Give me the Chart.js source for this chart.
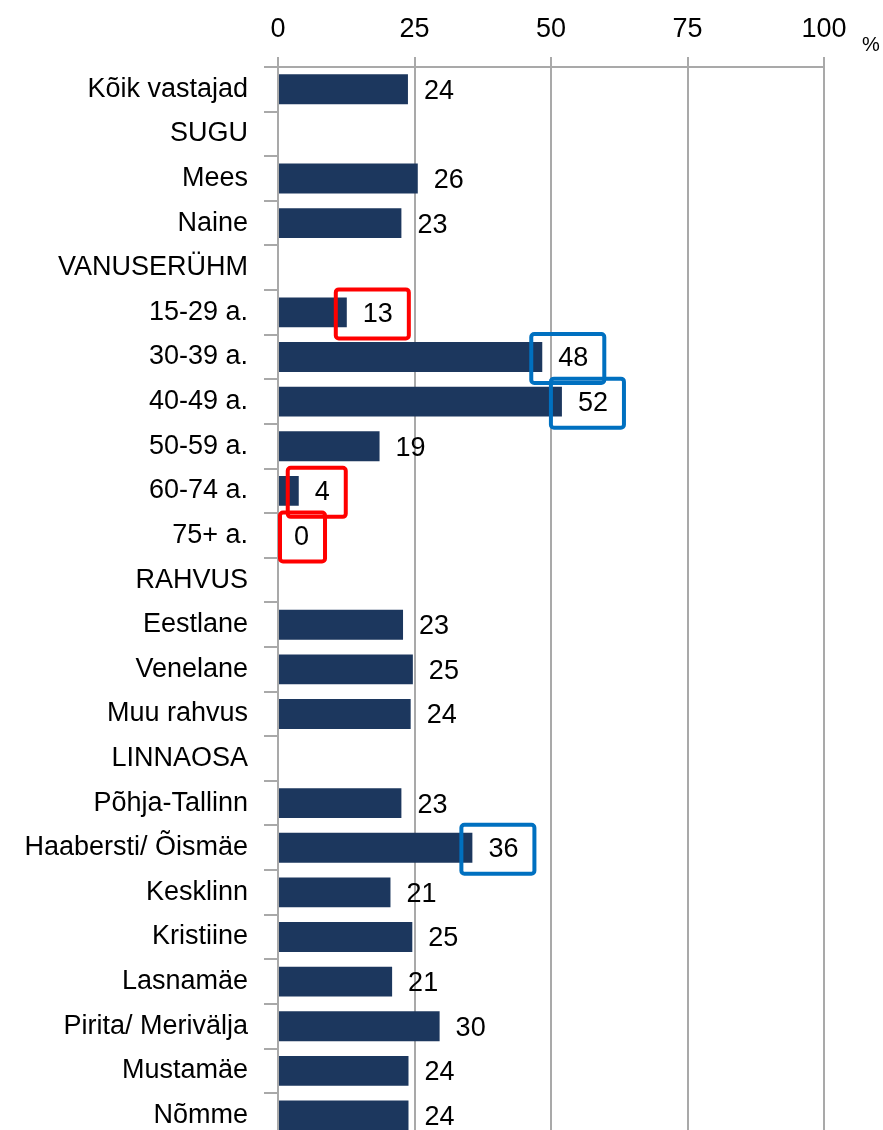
<!DOCTYPE html>
<html lang="et">

<head>
    <meta charset="UTF-8">
    <title>Vastajad rühmade kaupa</title>
    <script src="https://cdn.jsdelivr.net/npm/chart.js"></script>
    <style>
        html, body {
            margin: 0;
            padding: 0;
            background: #fff;
            overflow: hidden;
        }

        /* kõrgem kui aken: graafiku alumine osa jääb pildist välja nagu originaalis */
        .chart-container {
            position: relative;
            width: 883px;
            height: 1170px;
        }
    </style>
</head>

<body>
    <div class="chart-container">
        <canvas id="chart"></canvas>
    </div>

    <script>
        // Andmed
        const categories = [
            'Kõik vastajad', 'SUGU', 'Mees', 'Naine', 'VANUSERÜHM',
            '15-29 a.', '30-39 a.', '40-49 a.', '50-59 a.', '60-74 a.', '75+ a.',
            'RAHVUS', 'Eestlane', 'Venelane', 'Muu rahvus', 'LINNAOSA',
            'Põhja-Tallinn', 'Haabersti/ Õismäe', 'Kesklinn', 'Kristiine',
            'Lasnamäe', 'Pirita/ Merivälja', 'Mustamäe', 'Nõmme'
        ];
        const values = [
            23.8, null, 25.6, 22.6, null,
            12.6, 48.4, 52.0, 18.6, 3.8, 0,
            null, 22.9, 24.7, 24.3, null,
            22.6, 35.6, 20.6, 24.6,
            20.9, 29.6, 23.9, 23.9
        ];
        const xTicks = [0, 25, 50, 75, 100];
        const redRows = ['15-29 a.', '60-74 a.', '75+ a.'];
        const blueRows = ['30-39 a.', '40-49 a.', 'Haabersti/ Õismäe'];

        const FONT = "'Liberation Sans', Arial, sans-serif";

        // Väärtuste sildid ja raamid
        const labelsPlugin = {
            id: 'valueLabels',
            afterDatasetsDraw(chart) {
                const ctx = chart.ctx;
                const xs = chart.scales.x;
                const ys = chart.scales.y;
                ctx.save();
                ctx.font = '27px ' + FONT;
                ctx.fillStyle = '#000';
                ctx.textAlign = 'left';
                ctx.textBaseline = 'middle';
                values.forEach((v, i) => {
                    if (v === null) return;
                    const end = xs.getPixelForValue(v);
                    const y = ys.getPixelForValue(i);
                    const txt = String(Math.round(v));
                    const tx = end + 16;
                    ctx.fillText(txt, tx, y + 2);

                    let color = null;
                    if (redRows.includes(categories[i])) color = '#ff0000';
                    if (blueRows.includes(categories[i])) color = '#0070c0';
                    if (color) {
                        const w = ctx.measureText(txt).width;
                        const left = Math.max(end - 11, xs.left + 2);
                        const right = tx + w + 16;
                        ctx.strokeStyle = color;
                        ctx.lineWidth = 4;
                        ctx.beginPath();
                        ctx.roundRect(left, y - 23, right - left, 49, 3);
                        ctx.stroke();
                    }
                });
                // % märk
                ctx.font = '20px ' + FONT;
                ctx.fillText('%', xs.right + 38, xs.top + 45);
                ctx.restore();
            }
        };

        const ctx = document.getElementById('chart').getContext('2d');
        new Chart(ctx, {
            type: 'bar',
            data: {
                labels: categories,
                datasets: [{
                    data: values,
                    backgroundColor: '#1c375e',
                    borderWidth: 0,
                    categoryPercentage: 1,
                    barPercentage: 0.67
                }]
            },
            options: {
                indexAxis: 'y',
                responsive: true,
                maintainAspectRatio: false,
                animation: false,
                layout: {
                    padding: { left: 0, right: 59, top: 0, bottom: 0 }
                },
                plugins: {
                    legend: { display: false },
                    tooltip: { enabled: false }
                },
                scales: {
                    x: {
                        position: 'top',
                        min: 0,
                        max: 100,
                        afterBuildTicks: scale => {
                            scale.ticks = xTicks.map(v => ({ value: v }));
                        },
                        afterFit: scale => { scale.height = 67; },
                        grid: {
                            color: '#a9a9a9',
                            lineWidth: 2,
                            tickLength: 10
                        },
                        border: { color: '#a9a9a9', width: 2 },
                        ticks: {
                            color: '#000',
                            padding: 11,
                            maxRotation: 0,
                            font: { family: FONT, size: 27 }
                        }
                    },
                    y: {
                        afterFit: scale => { scale.width = 278; },
                        grid: {
                            drawOnChartArea: false,
                            color: '#a9a9a9',
                            lineWidth: 2,
                            tickLength: 14
                        },
                        border: { color: '#a9a9a9', width: 2 },
                        ticks: {
                            color: '#000',
                            padding: 16,
                            autoSkip: false,
                            font: { family: FONT, size: 27 }
                        }
                    }
                }
            },
            plugins: [labelsPlugin]
        });
    </script>
</body>

</html>
